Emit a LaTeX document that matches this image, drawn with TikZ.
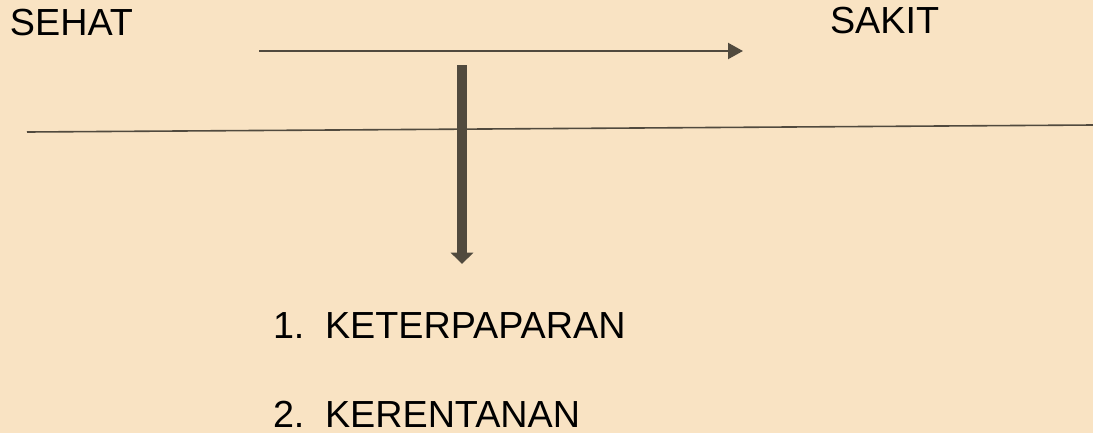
\documentclass[tikz,border=0pt]{standalone}
\usepackage{fontspec}
\setmainfont{Liberation Sans}
\usetikzlibrary{arrows.meta}
\definecolor{paper}{HTML}{F9E3C3}
\definecolor{ink}{HTML}{514A3E}
\begin{document}
\begin{tikzpicture}[x=0.75pt,y=-0.75pt,
  label/.style={anchor=base west,inner sep=0pt,outer sep=0pt,font=\fontsize{28.3}{33}\selectfont,text=black},
  thinline/.style={draw=ink,line width=1.2pt},
  flow/.style={draw=ink,line width=1.6pt,-{Triangle[length=11.25pt,width=12pt]}},
  push/.style={draw=ink,line width=7.5pt,-{Triangle[length=8.5pt,width=16.5pt]}}]
  % page
  \fill[paper] (0,0) rectangle (1093,433);
  \useasboundingbox (0,0) rectangle (1093,433);
  % states
  \node[label] (sehat) at (10,35) {SEHAT};
  \node[label] (sakit) at (830,33) {SAKIT};
  % transition arrow between the two states
  \coordinate (flowA) at (259,51);
  \coordinate (flowB) at (743,51);
  \draw[flow] (flowA) -- (flowB);
  % horizon line
  \coordinate (horA) at (27,132);
  \coordinate (horB) at (1093,125);
  \draw[thinline] (horA) -- (horB);
  % downward factor arrow
  \coordinate (downA) at (462,65);
  \coordinate (downB) at (462,264);
  \draw[push] (downA) -- (downB);
  % factors
  \node[label] (n1) at (273,338) {1.};
  \node[label] (f1) at (325,338) {KETERPAPARAN};
  \node[label] (n2) at (273,427) {2.};
  \node[label] (f2) at (325,427) {KERENTANAN};
\end{tikzpicture}
\end{document}
